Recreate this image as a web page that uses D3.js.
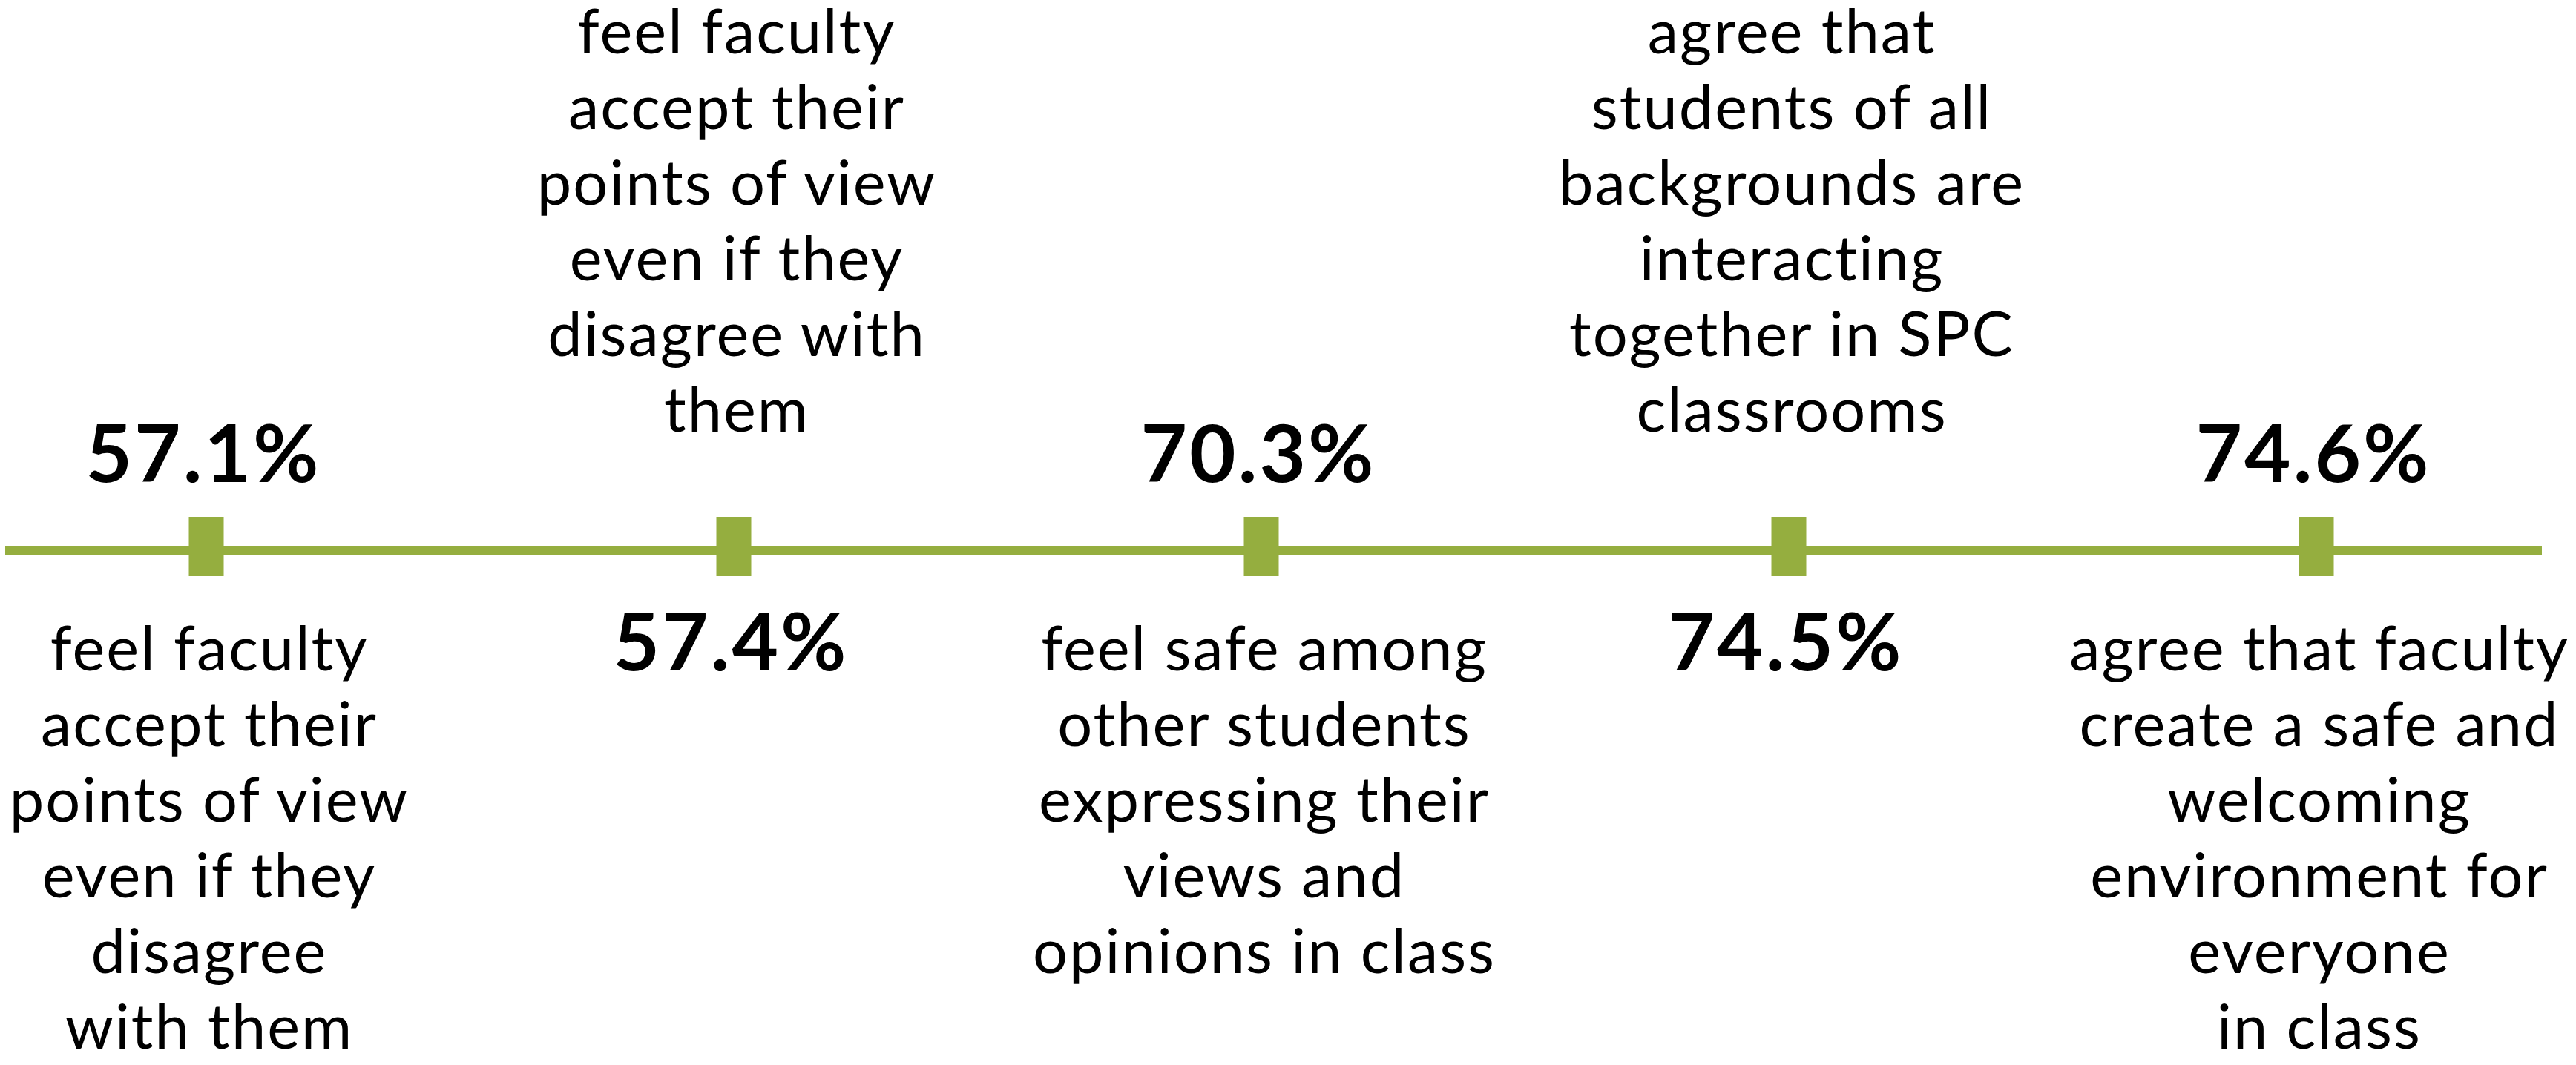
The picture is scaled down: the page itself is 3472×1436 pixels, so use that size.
<!DOCTYPE html>
<html>
<head>
<meta charset="utf-8">
<script src="https://cdn.jsdelivr.net/npm/d3@7"></script>
<style>
  html, body { margin: 0; padding: 0; background: #ffffff; }
  svg { display: block; }
</style>
</head>
<body>
<script>
// Survey results shown along a timeline, labels alternating above and below
const values = [57.1, 57.4, 70.3, 74.5, 74.6];
const statements = [
  ["feel faculty", "accept their", "points of view", "even if they", "disagree", "with them"],
  ["feel faculty", "accept their", "points of view", "even if they", "disagree with", "them"],
  ["feel safe among", "other students", "expressing their", "views and", "opinions in class"],
  ["agree that", "students of all", "backgrounds are", "interacting", "together in SPC", "classrooms"],
  ["agree that faculty", "create a safe and", "welcoming", "environment for", "everyone", "in class"]
];

const W = 3472, H = 1436;
const green = "#95ae3f";
const lineY = 742;
const lineStart = 7, lineEnd = 3426;
const markerW = 47, markerH = 80, markerTop = 697;
const valueSize = 108, textSize = 83, lineGap = 102;
const fontFamily = "Lato, 'Open Sans', sans-serif";

const svg = d3.select("body").append("svg")
  .attr("width", W).attr("height", H)
  .attr("viewBox", `0 0 ${W} ${H}`);

svg.append("rect").attr("width", W).attr("height", H).attr("fill", "#ffffff");

const x = d3.scalePoint()
  .domain(d3.range(values.length))
  .range([278, 3122]);

const fmt = d => d3.format(".1f")(d) + "%";

// timeline rule
svg.append("line")
  .attr("x1", lineStart).attr("x2", lineEnd)
  .attr("y1", lineY).attr("y2", lineY)
  .attr("stroke", green).attr("stroke-width", 12);

// square markers
svg.selectAll("rect.marker")
  .data(values)
  .join("rect")
  .attr("class", "marker")
  .attr("x", (d, i) => x(i) - markerW / 2)
  .attr("y", markerTop)
  .attr("width", markerW)
  .attr("height", markerH)
  .attr("fill", green);

// percentage labels: above on even items, below on odd items
svg.selectAll("text.value")
  .data(values)
  .join("text")
  .attr("class", "value")
  .attr("x", (d, i) => x(i) - 4)
  .attr("y", (d, i) => i % 2 === 0 ? 650 : 904)
  .attr("text-anchor", "middle")
  .attr("font-family", fontFamily)
  .attr("font-weight", 700)
  .attr("font-size", valueSize)
  .attr("letter-spacing", 3)
  .attr("fill", "#000")
  .text(d => fmt(d));

// statements: below on even items, above on odd items
const blocks = svg.selectAll("text.statement")
  .data(statements)
  .join("text")
  .attr("class", "statement")
  .attr("text-anchor", "middle")
  .attr("font-family", fontFamily)
  .attr("font-weight", 400)
  .attr("font-size", textSize)
  .attr("letter-spacing", 2)
  .attr("fill", "#000");

blocks.each(function(lines, i) {
  const cx = x(i) + 4;
  const firstBaseline = i % 2 === 0 ? 904 : 582 - (lines.length - 1) * lineGap;
  d3.select(this).selectAll("tspan")
    .data(lines)
    .join("tspan")
    .attr("x", cx)
    .attr("y", (d, j) => firstBaseline + j * lineGap)
    .text(d => d);
});
</script>
</body>
</html>
